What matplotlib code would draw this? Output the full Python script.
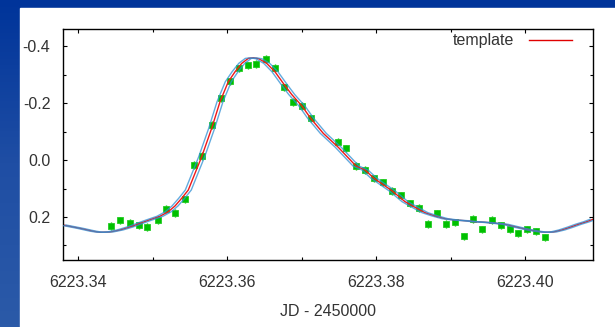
import numpy as np
import matplotlib.pyplot as plt
from matplotlib.patches import Rectangle
from matplotlib.lines import Line2D

plt.rcParams['font.family'] = ['Liberation Sans', 'DejaVu Sans']

# template light curve (JD - 2450000, magnitude)
tpl_jd = [6223.33792, 6223.34020, 6223.34195, 6223.34289, 6223.34423, 6223.34558,
          6223.34692, 6223.34827, 6223.34961, 6223.35095, 6223.35207, 6223.35297,
          6223.35387, 6223.35476, 6223.35566, 6223.35656, 6223.35790, 6223.35902,
          6223.36013, 6223.36104, 6223.36194, 6223.36282, 6223.36350, 6223.36426,
          6223.36530, 6223.36641, 6223.36753, 6223.36866, 6223.37004, 6223.37121,
          6223.37290, 6223.37492, 6223.37730, 6223.37851, 6223.37972, 6223.38218,
          6223.38389, 6223.38523, 6223.38657, 6223.38792, 6223.38926, 6223.39060,
          6223.39195, 6223.39329, 6223.39464, 6223.39598, 6223.39733, 6223.39867,
          6223.40001, 6223.40136, 6223.40270, 6223.40382, 6223.40495, 6223.40606,
          6223.40718, 6223.40831, 6223.40915]
tpl_mag = [0.2281, 0.2397, 0.2498, 0.2537, 0.2526, 0.2456,
           0.2351, 0.2221, 0.2095, 0.1975, 0.1814, 0.1614,
           0.1344, 0.1053, 0.0467, -0.0116, -0.1112, -0.2046,
           -0.2747, -0.3098, -0.3393, -0.3568, -0.3589, -0.3554,
           -0.3393, -0.3098, -0.2691, -0.2300, -0.1895, -0.1463,
           -0.0937, -0.0446, 0.0211, 0.0351, 0.0642, 0.1088,
           0.1463, 0.1660, 0.1849, 0.1965, 0.2060, 0.2105,
           0.2130, 0.2165, 0.2186, 0.2218, 0.2256, 0.2340,
           0.2421, 0.2491, 0.2537, 0.2526, 0.2456, 0.2361,
           0.2256, 0.2165, 0.2081]

# observations
obs_jd = [6223.34437, 6223.34562, 6223.34688, 6223.34809, 6223.34925, 6223.35065,
          6223.35180, 6223.35301, 6223.35427, 6223.35548, 6223.35664, 6223.35790,
          6223.35911, 6223.36032, 6223.36153, 6223.36274, 6223.36390, 6223.36516,
          6223.36637, 6223.36766, 6223.36879, 6223.37004, 6223.37121, 6223.37492,
          6223.37595, 6223.37730, 6223.37851, 6223.37972, 6223.38097, 6223.38218,
          6223.38335, 6223.38456, 6223.38577, 6223.38698, 6223.38819, 6223.38940,
          6223.39060, 6223.39181, 6223.39302, 6223.39423, 6223.39558, 6223.39679,
          6223.39800, 6223.39911, 6223.40032, 6223.40153, 6223.40274]
obs_mag = [0.232, 0.212, 0.220, 0.229, 0.235, 0.211,
           0.172, 0.186, 0.138, 0.018, -0.014, -0.123,
           -0.217, -0.276, -0.322, -0.332, -0.337, -0.354,
           -0.323, -0.255, -0.204, -0.190, -0.146, -0.064,
           -0.041, 0.021, 0.035, 0.064, 0.078, 0.109,
           0.124, 0.152, 0.168, 0.225, 0.187, 0.225,
           0.219, 0.268, 0.207, 0.243, 0.211, 0.229,
           0.243, 0.257, 0.243, 0.250, 0.271]
obs_err = 0.013
shift = 0.0004   # time shift of the two outer template copies

fig = plt.figure(figsize=(6.15, 3.27), dpi=100)

# slide background
bg = fig.add_axes([0, 0, 1, 1])
grad = np.linspace(0, 1, 100).reshape(-1, 1)
bg.imshow(grad, aspect='auto', cmap=plt.matplotlib.colors.LinearSegmentedColormap.from_list(
    'slide', ['#00349a', '#1f4ea4', '#2b5aa8']), extent=[0, 1, 0, 1], origin='upper')
bg.add_patch(Rectangle((20 / 615, 0), 1, 1 - 8 / 327, color='white', zorder=2))
bg.set_xlim(0, 1)
bg.set_ylim(0, 1)
bg.axis('off')

ax = fig.add_axes([63 / 615, 1 - 260 / 327, 530 / 615, 231 / 327])
ax.errorbar(obs_jd, obs_mag, yerr=obs_err, fmt='s', ms=4, mfc='#00c000', mec='#22cc22',
            mew=0.6, ecolor='#00c000', elinewidth=1, capsize=0, zorder=1)
ax.plot(tpl_jd, tpl_mag, color='#f01818', lw=1.0, zorder=2)
for s in (-shift, shift):
    ax.plot(np.array(tpl_jd) + s, tpl_mag, color='#2e8fd4', lw=1.0, alpha=0.75, zorder=3)

ax.set_xlim(6223.33792, 6223.40915)
ax.set_ylim(0.351, -0.46)
ax.set_xticks([6223.34, 6223.36, 6223.38, 6223.40])
ax.set_xticklabels(['6223.34', '6223.36', '6223.38', '6223.40'])
ax.set_xticks([6223.35, 6223.37, 6223.39], minor=True)
ax.set_yticks([-0.4, -0.2, 0.0, 0.2])
ax.set_yticklabels(['-0.4', '-0.2', '0.0', '0.2'])
ax.set_yticks([-0.3, -0.1, 0.1, 0.3], minor=True)
ax.tick_params(which='both', direction='in', top=True, right=True, colors='black',
               labelcolor='#333333', labelsize=11.5, width=0.8)
ax.tick_params(which='major', length=3.2)
ax.tick_params(which='minor', length=2)
ax.tick_params(axis='x', pad=11)
ax.tick_params(axis='y', pad=9)
for sp in ax.spines.values():
    sp.set_linewidth(1.0)
ax.set_xlabel('JD - 2450000', fontsize=11.5, color='#333333', labelpad=10)

handle = Line2D([], [], color='#e00000', lw=1.0)
ax.legend([handle], ['template'], loc='upper right', frameon=False, markerfirst=False,
          fontsize=11.5, handlelength=2.7, handletextpad=0.9, labelcolor='#333333',
          bbox_to_anchor=(0.981, 1.03), borderaxespad=0.3)

fig.savefig('out.png', dpi=100)
